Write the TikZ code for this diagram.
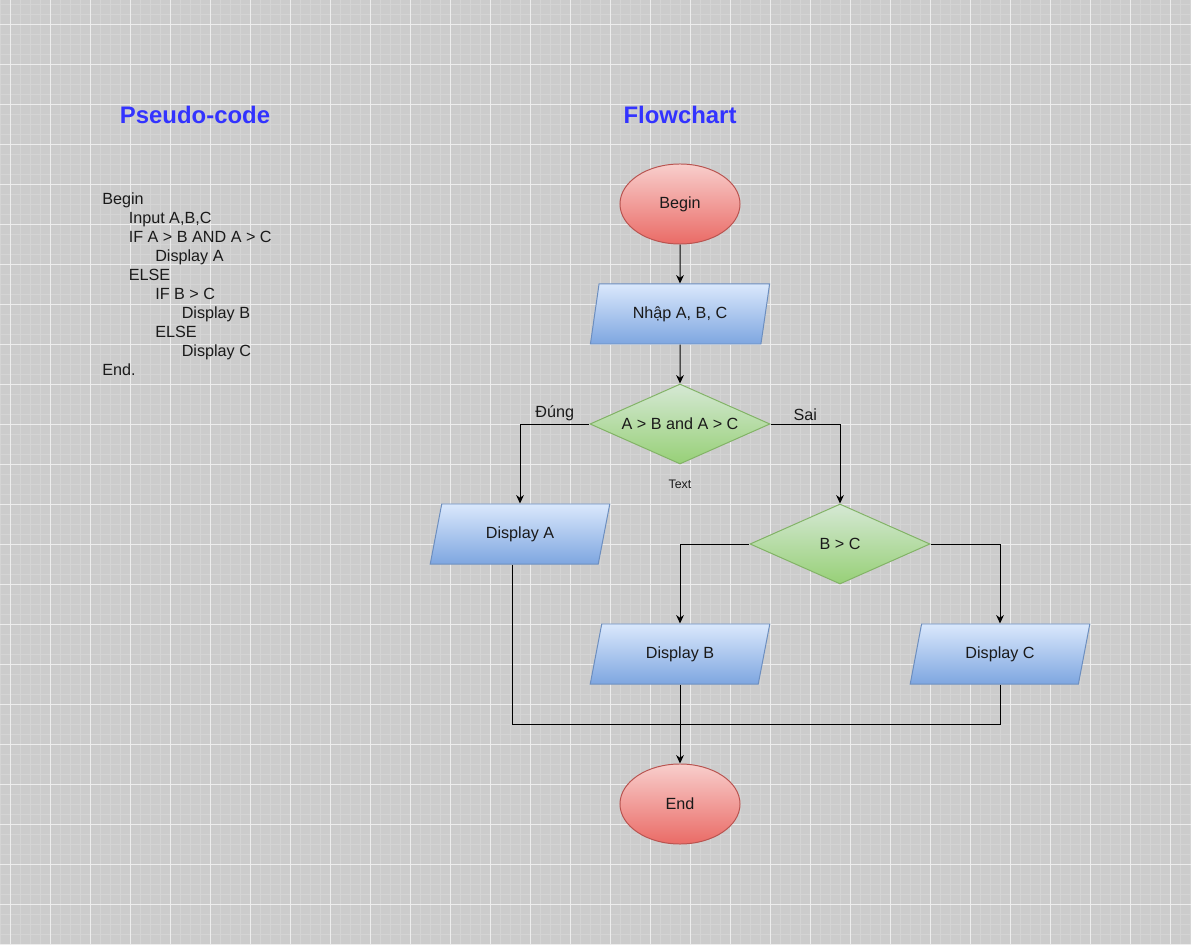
\documentclass[tikz,border=0pt]{standalone}
\usepackage{fontspec}
\setmainfont{Liberation Sans}
\usetikzlibrary{shapes.geometric,arrows.meta,positioning,calc}
\definecolor{bgc}{HTML}{CCCCCC}
\definecolor{gridminor}{HTML}{D4D4D4}
\definecolor{gridmajor}{HTML}{EDEDED}
\definecolor{redtop}{HTML}{F8CECC}
\definecolor{redbot}{HTML}{EA6B66}
\definecolor{redline}{HTML}{B85450}
\definecolor{bluetop}{HTML}{DAE8FC}
\definecolor{bluebot}{HTML}{7EA6E0}
\definecolor{blueline}{HTML}{6C8EBF}
\definecolor{greentop}{HTML}{D5E8D4}
\definecolor{greenbot}{HTML}{97D077}
\definecolor{greenline}{HTML}{82B366}
\definecolor{titleblue}{HTML}{3333FF}
\definecolor{txtc}{HTML}{1A1A1A}

\begin{document}
\begin{tikzpicture}[
    x=0.025cm, y=-0.025cm,
    font=\fontsize{11.5}{14}\selectfont,
    term/.style={ellipse, draw=redline, line width=0.7pt, top color=redtop, bottom color=redbot, minimum width=3cm, minimum height=2cm, inner sep=0pt, text=txtc},
    io/.style={trapezium, trapezium left angle=71.57, trapezium right angle=108.43, trapezium stretches=true, draw=blueline, line width=0.7pt, top color=bluetop, bottom color=bluebot, minimum width=4.5cm, minimum height=1.5cm, inner sep=0pt, text=txtc},
    cond/.style={diamond, aspect=2.25, draw=greenline, line width=0.7pt, top color=greentop, bottom color=greenbot, minimum width=4.5cm, minimum height=2cm, inner sep=0pt, text=txtc},
    arr/.style={-{Stealth[length=6pt,width=5.5pt]}, line width=0.7pt},
    ln/.style={line width=0.7pt},
    hdr/.style={font=\fontsize{17}{20}\selectfont\bfseries, text=titleblue},
    code/.style={anchor=base west, inner sep=0pt, text=txtc},
    lbl/.style={text=txtc, inner sep=2pt}
]
\useasboundingbox (0,0) rectangle (1191,945);

% --- Background grid ---
\fill[bgc] (0,0) rectangle (1191,945);
\foreach \gx in {0,10,...,1190} \draw[gridminor, line width=0.35pt] (\gx,0) -- (\gx,945);
\foreach \gy in {4,14,...,944} \draw[gridminor, line width=0.35pt] (0,\gy) -- (1191,\gy);
\foreach \gx in {10,50,...,1170} \draw[gridmajor, line width=0.7pt] (\gx,0) -- (\gx,945);
\foreach \gy in {24,64,...,944} \draw[gridmajor, line width=0.7pt] (0,\gy) -- (1191,\gy);

% --- Headers ---
\node[hdr] (hpc) at (195,115) {Pseudo-code};
\node[hdr] (hfc) at (680,115) {Flowchart};

% --- Pseudo-code ---
\foreach \lvl/\txt [count=\i] in {0/Begin, 1/{Input A,B,C}, 1/{IF A > B AND A > C}, 2/{Display A}, 1/ELSE, 2/{IF B > C}, 3/{Display B}, 2/ELSE, 3/{Display C}, 0/End.}
  \node[code] (pc\i) at (102+26.5*\lvl, 185.5+19*\i) {\txt};

% --- Flowchart ---
\node[term] (begin) at (680,204) {Begin};
\node[io] (inp) at (680,314) {Nhập A, B, C};
\node[cond] (c1) at (680,424) {A > B and A > C};
\node[font=\fontsize{8.8}{10}\selectfont, text=txtc] (txt) at (680,484) {Text};
\node[io] (dA) at (520,534) {Display A};
\node[cond] (c2) at (840,544) {B > C};
\node[io] (dB) at (680,654) {Display B};
\node[io] (dC) at (1000,654) {Display C};
\node[term] (end) at (680,804) {End};
\coordinate (jn) at (680,724);

\draw[arr] (begin) -- (inp);
\draw[arr] (inp) -- (c1);
\draw[arr] (c1.west) -| node[lbl, pos=0.25, above] {Đúng} (dA.north);
\draw[arr] (c1.east) -| node[lbl, pos=0.25, above] {Sai} (c2.north);
\draw[arr] (c2.west) -| (dB.north);
\draw[arr] (c2.east) -| (dC.north);
\draw[ln] ([xshift=-0.2cm]dA.center |- dA.south) |- (jn);
\draw[ln] (dC.center |- dC.south) |- (jn);
\draw[arr] (dB.center |- dB.south) -- (end);
\end{tikzpicture}
\end{document}
